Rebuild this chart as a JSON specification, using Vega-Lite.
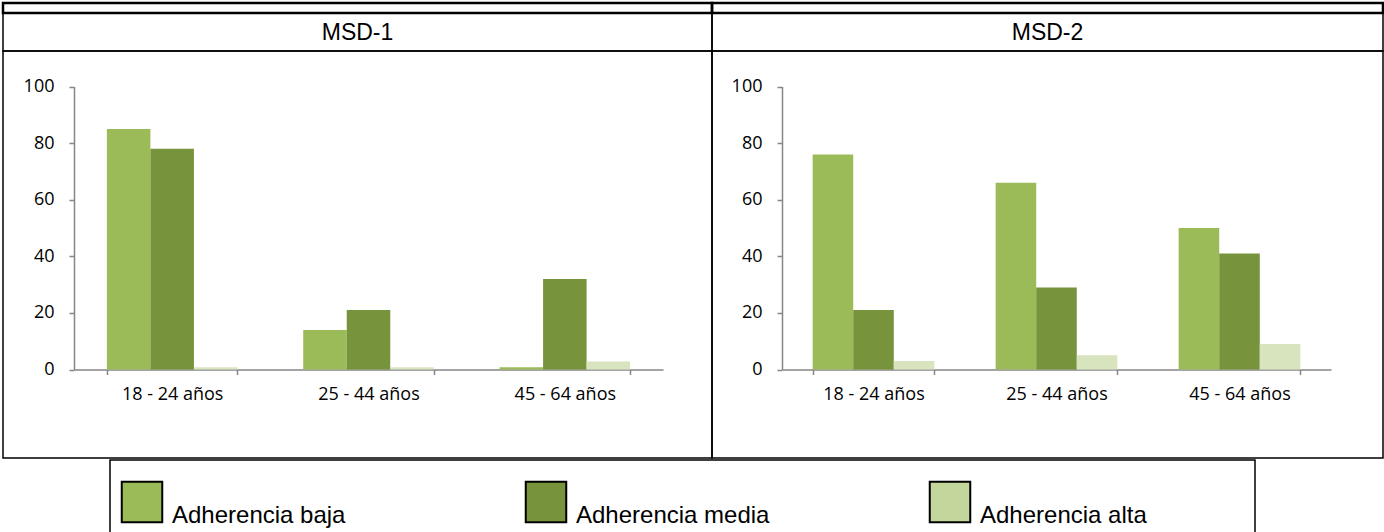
{
  "$schema": "https://vega.github.io/schema/vega-lite/v6.json",
  "background": "white",
  "padding": {"left": 1, "top": 0, "right": 0, "bottom": 0},
  "spacing": 0,
  "config": {
    "view": {"stroke": "black", "strokeWidth": 1.5},
    "concat": {"spacing": 0},
    "font": "Open Sans",
    "axis": {
      "domainColor": "#868686",
      "tickColor": "#868686",
      "domainWidth": 1.5,
      "tickWidth": 1.5,
      "tickSize": 5,
      "labelFont": "Open Sans",
      "labelFontSize": 18,
      "labelColor": "black",
      "grid": false
    }
  },
  "datasets": {
    "barras": [
      {"panel": "MSD-1", "edad": "18 - 24 años", "adherencia": "Adherencia baja", "valor": 85},
      {"panel": "MSD-1", "edad": "18 - 24 años", "adherencia": "Adherencia media", "valor": 78},
      {"panel": "MSD-1", "edad": "18 - 24 años", "adherencia": "Adherencia alta", "valor": 0.8},
      {"panel": "MSD-1", "edad": "25 - 44 años", "adherencia": "Adherencia baja", "valor": 14},
      {"panel": "MSD-1", "edad": "25 - 44 años", "adherencia": "Adherencia media", "valor": 21},
      {"panel": "MSD-1", "edad": "25 - 44 años", "adherencia": "Adherencia alta", "valor": 0.8},
      {"panel": "MSD-1", "edad": "45 - 64 años", "adherencia": "Adherencia baja", "valor": 0.8},
      {"panel": "MSD-1", "edad": "45 - 64 años", "adherencia": "Adherencia media", "valor": 32},
      {"panel": "MSD-1", "edad": "45 - 64 años", "adherencia": "Adherencia alta", "valor": 2.8},
      {"panel": "MSD-2", "edad": "18 - 24 años", "adherencia": "Adherencia baja", "valor": 76},
      {"panel": "MSD-2", "edad": "18 - 24 años", "adherencia": "Adherencia media", "valor": 21},
      {"panel": "MSD-2", "edad": "18 - 24 años", "adherencia": "Adherencia alta", "valor": 3},
      {"panel": "MSD-2", "edad": "25 - 44 años", "adherencia": "Adherencia baja", "valor": 66},
      {"panel": "MSD-2", "edad": "25 - 44 años", "adherencia": "Adherencia media", "valor": 29},
      {"panel": "MSD-2", "edad": "25 - 44 años", "adherencia": "Adherencia alta", "valor": 5},
      {"panel": "MSD-2", "edad": "45 - 64 años", "adherencia": "Adherencia baja", "valor": 50},
      {"panel": "MSD-2", "edad": "45 - 64 años", "adherencia": "Adherencia media", "valor": 41},
      {"panel": "MSD-2", "edad": "45 - 64 años", "adherencia": "Adherencia alta", "valor": 9}
    ]
  },
  "resolve": {"scale": {"color": "independent", "x": "independent", "y": "independent", "xOffset": "independent"}},
  "vconcat": [
    {
      "columns": 2,
      "spacing": 0,
      "bounds": "flush",
      "resolve": {"scale": {"color": "independent", "x": "independent", "y": "independent", "xOffset": "independent"}},
      "concat": [
        {
          "width": 709,
          "height": 10,
          "data": {"values": [{"t": ""}]},
          "mark": {"type": "text"},
          "encoding": {"text": {"field": "t"}},
          "view": {"stroke": "black", "strokeWidth": 2.5}
        },
        {
          "width": 671,
          "height": 10,
          "data": {"values": [{"t": ""}]},
          "mark": {"type": "text"},
          "encoding": {"text": {"field": "t"}},
          "view": {"stroke": "black", "strokeWidth": 2.5}
        },
        {
          "width": 709,
          "height": 38,
          "data": {"values": [{"titulo": "MSD-1"}]},
          "mark": {"type": "text", "font": "Liberation Sans", "fontSize": 23, "dy": 1, "color": "black"},
          "encoding": {"text": {"field": "titulo"}},
          "view": {"stroke": "black", "strokeWidth": 1.5}
        },
        {
          "width": 671,
          "height": 38,
          "data": {"values": [{"titulo": "MSD-2"}]},
          "mark": {"type": "text", "font": "Liberation Sans", "fontSize": 23, "dy": 1, "color": "black"},
          "encoding": {"text": {"field": "titulo"}},
          "view": {"stroke": "black", "strokeWidth": 1.5}
        },
        {
          "width": 709,
          "height": 407,
          "data": {"name": "barras"},
          "transform": [{"filter": "datum.panel == 'MSD-1'"}],
          "mark": {"type": "bar"},
          "encoding": {
            "x": {
              "field": "edad", "type": "nominal",
              "sort": ["18 - 24 años", "25 - 44 años", "45 - 64 años"],
              "scale": {"range": [71, 660], "paddingInner": 0.335, "paddingOuter": 0.1675},
              "axis": {"title": null, "offset": -88.5, "tickBand": "extent", "labelAngle": 0, "labelPadding": 11}
            },
            "xOffset": {
              "field": "adherencia", "type": "nominal",
              "sort": ["Adherencia baja", "Adherencia media", "Adherencia alta"],
              "scale": {"paddingInner": 0, "paddingOuter": 0}
            },
            "y": {
              "field": "valor", "type": "quantitative",
              "scale": {"domain": [0, 100], "range": [318.5, 35.5], "nice": false},
              "axis": {"title": null, "offset": -71, "values": [0, 20, 40, 60, 80, 100], "labelPadding": 15}
            },
            "color": {
              "field": "adherencia", "type": "nominal",
              "scale": {"domain": ["Adherencia baja", "Adherencia media", "Adherencia alta"], "range": ["#9BBB59", "#77933C", "#D7E4BD"]},
              "legend": null
            }
          }
        },
        {
          "width": 671,
          "height": 407,
          "data": {"name": "barras"},
          "transform": [{"filter": "datum.panel == 'MSD-2'"}],
          "mark": {"type": "bar"},
          "encoding": {
            "x": {
              "field": "edad", "type": "nominal",
              "sort": ["18 - 24 años", "25 - 44 años", "45 - 64 años"],
              "scale": {"range": [70, 619], "paddingInner": 0.335, "paddingOuter": 0.1675},
              "axis": {"title": null, "offset": -88.5, "tickBand": "extent", "labelAngle": 0, "labelPadding": 11}
            },
            "xOffset": {
              "field": "adherencia", "type": "nominal",
              "sort": ["Adherencia baja", "Adherencia media", "Adherencia alta"],
              "scale": {"paddingInner": 0, "paddingOuter": 0}
            },
            "y": {
              "field": "valor", "type": "quantitative",
              "scale": {"domain": [0, 100], "range": [318.5, 35.5], "nice": false},
              "axis": {"title": null, "offset": -70, "values": [0, 20, 40, 60, 80, 100], "labelPadding": 15}
            },
            "color": {
              "field": "adherencia", "type": "nominal",
              "scale": {"domain": ["Adherencia baja", "Adherencia media", "Adherencia alta"], "range": ["#9BBB59", "#77933C", "#D7E4BD"]},
              "legend": null
            }
          }
        }
      ]
    },
    {
      "spacing": 0,
      "bounds": "flush",
      "hconcat": [
        {
          "width": 107,
          "height": 78,
          "data": {"values": [{"t": ""}]},
          "mark": {"type": "text"},
          "encoding": {"text": {"field": "t"}},
          "view": {"stroke": null}
        },
        {
          "width": 1145,
          "height": 78,
          "data": {"values": [
            {"adherencia": "Adherencia baja"},
            {"adherencia": "Adherencia media"},
            {"adherencia": "Adherencia alta"}
          ]},
          "layer": [
            {
              "mark": {"type": "point", "shape": "square", "size": 1640, "filled": true, "opacity": 1, "stroke": "black", "strokeWidth": 2, "yOffset": 3},
              "encoding": {
                "x": {"field": "adherencia", "type": "nominal", "sort": null, "scale": {"type": "point", "range": [32, 840], "padding": 0}, "axis": null},
                "color": {
                  "field": "adherencia", "type": "nominal",
                  "scale": {"domain": ["Adherencia baja", "Adherencia media", "Adherencia alta"], "range": ["#9BBB59", "#77933C", "#C3D69B"]},
                  "legend": null
                }
              }
            },
            {
              "mark": {"type": "text", "align": "left", "baseline": "alphabetic", "dx": 30, "dy": 24, "font": "Liberation Sans", "fontSize": 24, "color": "black"},
              "encoding": {
                "x": {"field": "adherencia", "type": "nominal", "sort": null, "scale": {"type": "point", "range": [32, 840], "padding": 0}, "axis": null},
                "text": {"field": "adherencia"}
              }
            }
          ]
        }
      ]
    }
  ]
}
